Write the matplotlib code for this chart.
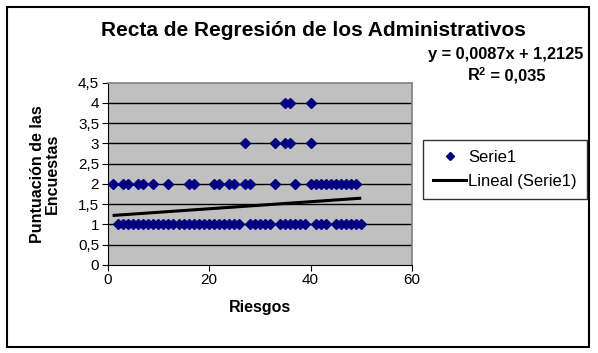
import matplotlib
matplotlib.use("Agg")
import matplotlib.pyplot as plt
from matplotlib.patches import Rectangle
from matplotlib.lines import Line2D

# Data
x_y1 = list(range(2, 27)) + list(range(28, 33)) + list(range(34, 40)) + [41, 42, 43] + list(range(45, 51))
x_y2 = [1, 3, 4, 6, 7, 9, 12, 16, 17, 21, 22, 24, 25, 27, 28, 33, 37] + list(range(40, 50))
x_y3 = [27, 33, 35, 36, 40]
x_y4 = [35, 36, 40]
xs = x_y1 + x_y2 + x_y3 + x_y4
ys = [1] * len(x_y1) + [2] * len(x_y2) + [3] * len(x_y3) + [4] * len(x_y4)

slope = 0.0087
intercept = 1.2125
trend_x = [min(xs), max(xs)]
trend_y = [slope * v + intercept for v in trend_x]

yticks = [0, 0.5, 1, 1.5, 2, 2.5, 3, 3.5, 4, 4.5]
ytick_labels = ["0", "0,5", "1", "1,5", "2", "2,5", "3", "3,5", "4", "4,5"]
xticks = [0, 20, 40, 60]

plt.rcParams['font.family'] = ['Liberation Sans', 'DejaVu Sans']

W, H = 598, 353
fig = plt.figure(figsize=(W / 100, H / 100), dpi=100)
fig.patch.set_facecolor("white")

# outer chart border
fig.add_artist(Rectangle((6.5 / W, 1 - 346.5 / H), (589 - 6.5) / W, (346.5 - 6.5) / H,
                         transform=fig.transFigure, fill=False, edgecolor="black", lw=1.5))

left, right, top, bottom = 107.5, 412, 82.5, 265
ax = fig.add_axes([left / W, 1 - bottom / H, (right - left) / W, (bottom - top) / H])
ax.set_facecolor("#C0C0C0")
ax.set_xlim(0, 60)
ax.set_ylim(0, 4.5)
for v in yticks[1:-1]:
    ax.axhline(v, color="black", lw=1, zorder=1)

ax.plot(trend_x, trend_y, color="black", lw=2.2, zorder=2, solid_capstyle="butt")
ax.plot(xs, ys, linestyle="none", marker="D", ms=5.5, color="#000080", zorder=3)

for s in ["top", "right"]:
    ax.spines[s].set_color("#808080")
    ax.spines[s].set_linewidth(1.2)
ax.spines["left"].set_color("black")
ax.spines["bottom"].set_color("black")

ax.set_yticks(yticks)
ax.set_yticklabels(ytick_labels)
ax.set_xticks(xticks)
ax.tick_params(axis="both", direction="out", length=4, color="black", labelsize=11, pad=2)

ax.set_xlabel("Riesgos", fontsize=11.5, fontweight="bold", labelpad=9)
ax.set_ylabel("Puntuación de las\nEncuestas", fontsize=11.5, fontweight="bold", labelpad=13,
              linespacing=1.0)

fig.text(313 / W, 1 - 30 / H, "Recta de Regresión de los Administrativos", ha="center", va="center",
         fontsize=15, fontweight="bold")
fig.text(506 / W, 1 - 55 / H, "y = 0,0087x + 1,2125", ha="center", va="center",
         fontsize=11.8, fontweight="bold")
fig.text(468 / W, 1 - 76 / H, "R", ha="left", va="center", fontsize=11.8, fontweight="bold")
fig.text(479 / W, 1 - 72 / H, "2", ha="left", va="center", fontsize=8, fontweight="bold")
fig.text(486 / W, 1 - 76 / H, " = 0,035", ha="left", va="center", fontsize=11.8, fontweight="bold")

handles = [Line2D([], [], linestyle="none", marker="D", ms=4.5, color="#000080"),
           Line2D([], [], color="black", lw=2.2)]
leg = fig.legend(handles, ["Serie1", "Lineal (Serie1)"], loc="upper left",
                 bbox_to_anchor=(423 / W, 1 - 140 / H), frameon=True, fancybox=False,
                 fontsize=12, handlelength=2.0, handletextpad=0.1, borderpad=0.6,
                 labelspacing=0.55, borderaxespad=0)
leg.get_frame().set_edgecolor("black")
leg.get_frame().set_linewidth(1)

fig.savefig("out.png", dpi=100)
